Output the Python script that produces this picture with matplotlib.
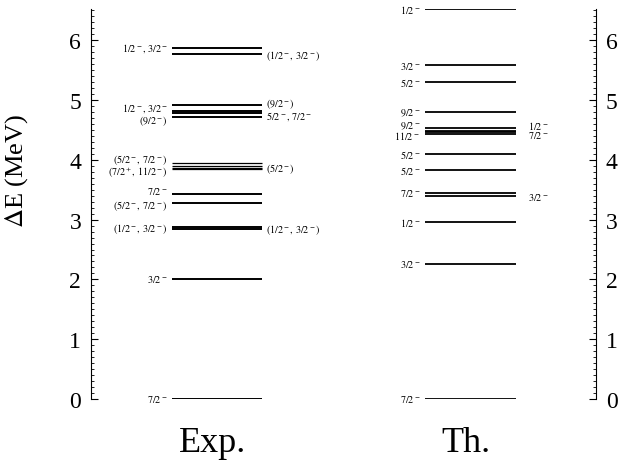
import matplotlib.pyplot as plt
from matplotlib.ticker import MultipleLocator

plt.rcParams['font.family'] = ['Liberation Serif', 'DejaVu Serif']
plt.rcParams['mathtext.fontset'] = 'stix'

# ---- niveles experimentales (MeV)
exp_niveles = [0.0, 2.01, 2.85, 2.87, 3.27, 3.43, 3.85, 3.87, 3.89, 3.95,
               4.71, 4.79, 4.81, 4.91, 5.77, 5.87]
exp_izq_txt = ['7/2^-', '3/2^-', '(1/2^-,\\,3/2^-)', '(5/2^-,\\,7/2^-)', '7/2^-',
               '(7/2^+,\\,11/2^-)', '(5/2^-,\\,7/2^-)', '(9/2^-)', '1/2^-,\\,3/2^-',
               '1/2^-,\\,3/2^-']
exp_izq_y = [0.0, 2.01, 2.86, 3.25, 3.48, 3.79, 4.01, 4.66, 4.87, 5.88]
exp_der_txt = ['(1/2^-,\\,3/2^-)', '(5/2^-)', '5/2^-,\\,7/2^-', '(9/2^-)', '(1/2^-,\\,3/2^-)']
exp_der_y = [2.85, 3.87, 4.74, 4.95, 5.76]

# ---- niveles teoricos (MeV)
th_niveles = [0.0, 2.26, 2.96, 3.39, 3.45, 3.83, 4.09, 4.43, 4.46, 4.49, 4.53,
              4.80, 5.31, 5.58, 6.52]
th_izq_txt = ['7/2^-', '3/2^-', '1/2^-', '7/2^-', '5/2^-', '5/2^-', '11/2^-', '9/2^-',
              '9/2^-', '5/2^-', '3/2^-', '1/2^-']
th_izq_y = [0.0, 2.26, 2.96, 3.46, 3.83, 4.09, 4.41, 4.58, 4.80, 5.31, 5.58, 6.52]
th_der_txt = ['3/2^-', '7/2^-', '1/2^-']
th_der_y = [3.39, 4.42, 4.59]

fig = plt.figure(figsize=(6.23, 4.64), dpi=100)
ax = fig.add_axes([0.146, 0.138, 0.811, 0.84])

ax.set_xlim(0, 505)
ax.set_ylim(0, 6.52)

# lineas (las del grupo ~3.9 MeV son mas finas en el original)
for e in exp_niveles:
    lw = 0.9 if 3.8 < e < 4.0 else 1.4
    ax.hlines(e, 81, 171, color='black', linewidth=lw)
ax.hlines(th_niveles, 334, 425, color='black', linewidth=1.3)

# etiquetas
fs = 7.3
for txt, y in zip(exp_izq_txt, exp_izq_y):
    ax.text(77, y, f'${txt}$', ha='right', va='center', fontsize=fs)
for txt, y in zip(exp_der_txt, exp_der_y):
    ax.text(175, y, f'${txt}$', ha='left', va='center', fontsize=fs)
for txt, y in zip(th_izq_txt, th_izq_y):
    ax.text(329, y, f'${txt}$', ha='right', va='center', fontsize=fs)
for txt, y in zip(th_der_txt, th_der_y):
    ax.text(437, y, f'${txt}$', ha='left', va='center', fontsize=fs)

# ejes
ax.spines['top'].set_visible(False)
ax.spines['bottom'].set_visible(False)
ax.set_xticks([])
ax.yaxis.set_major_locator(MultipleLocator(1))
ax.yaxis.set_minor_locator(MultipleLocator(0.1))
ax.tick_params(axis='y', which='both', direction='in', left=True, right=True,
               labelleft=True, labelright=True, labelsize=17, pad=7)
ax.tick_params(axis='y', which='major', length=5)
ax.tick_params(axis='y', which='minor', length=2.5)
ax.set_ylabel(r'$\Delta$E (MeV)', fontsize=19)
ax.yaxis.set_label_coords(-0.12, 0.588)

ax.text(122, -0.45, 'Exp.', ha='center', va='top', fontsize=26)
ax.text(375, -0.45, 'Th.', ha='center', va='top', fontsize=26)

plt.savefig('out.png', dpi=100)
